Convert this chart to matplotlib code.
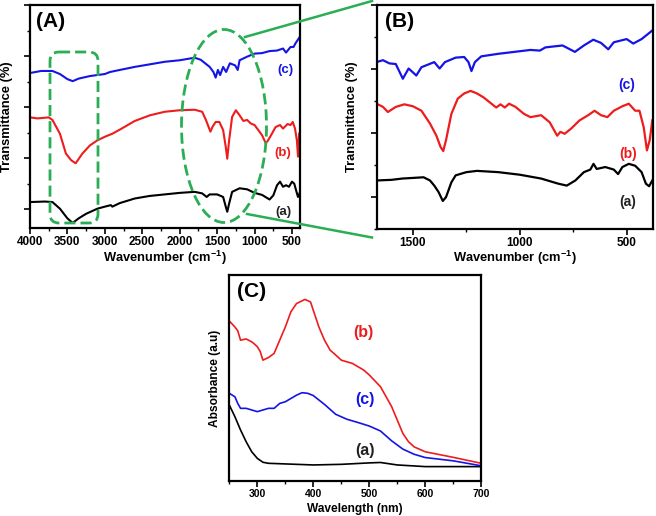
import matplotlib
matplotlib.use("Agg")
import matplotlib.pyplot as plt
from matplotlib.patches import FancyBboxPatch, Ellipse
from matplotlib.ticker import MultipleLocator

plt.rcParams['font.family'] = ['Liberation Sans', 'DejaVu Sans']
plt.rcParams['font.weight'] = 'bold'
plt.rcParams['mathtext.fontset'] = 'custom'
plt.rcParams['mathtext.default'] = 'bf'
plt.rcParams['mathtext.bf'] = 'Liberation Sans:bold'
plt.rcParams['mathtext.rm'] = 'Liberation Sans:bold'

# ---- (A) FTIR, full range ----
wn_a_a = [4000, 3800, 3700, 3600, 3500, 3430, 3350, 3250, 3100, 3000, 2920, 2900, 2800, 2600,
          2400, 2200, 2000, 1800, 1700, 1640, 1600, 1500, 1420, 1385, 1365, 1340, 1300, 1200,
          1100, 1000, 900, 800, 750, 700, 660, 620, 580, 540, 500, 470, 440, 420, 400]
tr_a_a = [0.14, 0.15, 0.14, 0.01, -0.18, -0.27, -0.18, -0.09, 0.01, 0.05, 0.08, 0.05, 0.12, 0.21,
          0.26, 0.29, 0.32, 0.34, 0.31, 0.24, 0.29, 0.29, 0.24, 0.05, -0.05, 0.11, 0.34, 0.41,
          0.39, 0.32, 0.28, 0.19, 0.27, 0.47, 0.54, 0.44, 0.47, 0.44, 0.54, 0.50, 0.34, 0.24, 0.31]

wn_a_b = [4000, 3900, 3750, 3700, 3600, 3520, 3450, 3390, 3300, 3200, 3100, 3000, 2900, 2800,
          2600, 2400, 2200, 2000, 1800, 1700, 1650, 1590, 1560, 1520, 1470, 1420, 1385, 1365,
          1340, 1300, 1250, 1200, 1150, 1100, 1050, 1000, 950, 900, 850, 820, 780, 720, 660,
          620, 560, 520, 490, 460, 435, 420, 405]
tr_a_b = [1.80, 1.78, 1.80, 1.75, 1.48, 1.09, 0.96, 0.90, 1.09, 1.25, 1.35, 1.42, 1.48, 1.56,
          1.73, 1.84, 1.91, 1.94, 1.95, 1.91, 1.75, 1.52, 1.62, 1.71, 1.71, 1.55, 1.22, 0.99,
          1.35, 1.81, 1.94, 1.84, 1.73, 1.75, 1.68, 1.65, 1.55, 1.45, 1.29, 1.35, 1.45, 1.61, 1.65,
          1.58, 1.67, 1.65, 1.71, 1.58, 1.35, 1.03, 1.48]

wn_a_c = [4000, 3850, 3700, 3600, 3500, 3430, 3350, 3200, 3000, 2930, 2800, 2600, 2400, 2200,
          2000, 1800, 1720, 1660, 1600, 1550, 1520, 1490, 1460, 1420, 1380, 1330, 1260, 1225,
          1200, 1100, 1000, 900, 800, 700, 620, 580, 520, 480, 450, 400]
tr_a_c = [2.67, 2.71, 2.71, 2.65, 2.55, 2.51, 2.56, 2.61, 2.65, 2.69, 2.73, 2.79, 2.84, 2.89,
          2.92, 2.97, 2.93, 2.86, 2.79, 2.69, 2.58, 2.73, 2.63, 2.79, 2.69, 2.86, 2.82, 2.73,
          2.92, 2.99, 3.05, 3.06, 3.10, 3.11, 3.15, 3.07, 3.18, 3.18, 3.26, 3.37]

# ---- (B) FTIR, zoomed range ----
wn_b_a = [1670, 1600, 1550, 1500, 1450, 1420, 1400, 1380, 1360, 1345, 1320, 1300, 1250, 1200,
          1100, 1000, 900, 820, 780, 740, 700, 670, 655, 640, 600, 560, 540, 520, 490, 460,
          430, 410, 395, 380]
tr_b_a = [0.26, 0.27, 0.29, 0.30, 0.31, 0.26, 0.18, 0.08, -0.06, 0.00, 0.23, 0.34, 0.39, 0.41,
          0.39, 0.35, 0.29, 0.21, 0.18, 0.26, 0.39, 0.43, 0.52, 0.44, 0.47, 0.43, 0.36, 0.47, 0.52,
          0.49, 0.39, 0.21, 0.17, 0.26]

wn_b_b = [1670, 1640, 1617, 1580, 1540, 1500, 1460, 1420, 1390, 1370, 1358, 1345, 1320, 1290,
          1260, 1230, 1200, 1170, 1140, 1110, 1090, 1070, 1050, 1020, 980, 950, 900, 860, 835,
          825, 810, 790, 760, 720, 680, 650, 620, 590, 560, 520, 490, 460, 440, 420, 405, 392, 380]
tr_b_b = [1.46, 1.41, 1.33, 1.41, 1.45, 1.42, 1.35, 1.15, 0.96, 0.78, 0.72, 0.89, 1.30, 1.54,
          1.62, 1.66, 1.62, 1.56, 1.48, 1.40, 1.45, 1.40, 1.46, 1.41, 1.30, 1.25, 1.28, 1.17, 1.02,
          0.96, 1.02, 0.99, 1.07, 1.20, 1.28, 1.35, 1.28, 1.25, 1.35, 1.42, 1.46, 1.35, 1.35, 1.09,
          0.73, 0.89, 1.20]

wn_b_c = [1670, 1640, 1610, 1580, 1547, 1520, 1500, 1484, 1460, 1430, 1400, 1375, 1350, 1300,
          1260, 1240, 1226, 1210, 1180, 1100, 1000, 950, 906, 880, 800, 742, 700, 656, 620, 586,
          560, 500, 469, 430, 400, 378]
tr_b_c = [2.11, 2.14, 2.09, 2.08, 1.85, 2.01, 1.95, 1.90, 2.03, 2.07, 2.11, 2.01, 2.11, 2.18,
          2.19, 2.11, 1.97, 2.11, 2.20, 2.24, 2.28, 2.30, 2.29, 2.34, 2.37, 2.27, 2.37, 2.46, 2.41,
          2.31, 2.42, 2.47, 2.40, 2.47, 2.55, 2.61]

# ---- (C) UV-Vis ----
wl_a = [250, 260, 270, 280, 290, 300, 310, 320, 350, 400, 450, 500, 520, 550, 600, 700]
ab_a = [0.369, 0.312, 0.248, 0.191, 0.142, 0.110, 0.091, 0.086, 0.083, 0.078, 0.081, 0.088,
        0.090, 0.078, 0.070, 0.070]

wl_b = [250, 260, 265, 270, 280, 290, 295, 300, 305, 310, 320, 330, 340, 350, 360, 370, 385,
        395, 400, 410, 420, 430, 440, 450, 470, 490, 500, 520, 540, 550, 560, 570, 580, 600,
        650, 700]
ab_b = [0.777, 0.748, 0.730, 0.684, 0.690, 0.676, 0.665, 0.652, 0.630, 0.587, 0.600, 0.620,
        0.684, 0.748, 0.822, 0.862, 0.882, 0.870, 0.829, 0.748, 0.684, 0.636, 0.612, 0.587,
        0.571, 0.539, 0.515, 0.458, 0.361, 0.296, 0.231, 0.191, 0.166, 0.142, 0.115, 0.086]

wl_c = [250, 260, 265, 270, 280, 290, 300, 310, 320, 330, 340, 350, 360, 370, 380, 390, 400,
        420, 440, 460, 480, 500, 520, 540, 560, 580, 600, 650, 700]
ab_c = [0.426, 0.409, 0.377, 0.353, 0.353, 0.345, 0.337, 0.345, 0.353, 0.353, 0.377, 0.385,
        0.401, 0.417, 0.429, 0.426, 0.415, 0.372, 0.324, 0.300, 0.284, 0.267, 0.243, 0.195,
        0.155, 0.130, 0.114, 0.098, 0.074]

BLUE = '#1414e6'
RED = '#ee1c1c'
GREEN = '#2aae55'

fig = plt.figure(figsize=(6.56, 5.16), dpi=100)


def style_axes(ax, labelsize=8.5, lw=1.6):
    for s in ax.spines.values():
        s.set_linewidth(lw)
    ax.tick_params(which='major', direction='out', length=4, width=1.2,
                   labelsize=labelsize, pad=1.5)
    ax.tick_params(which='minor', direction='out', length=2.5, width=1.0)
    for lab in ax.get_xticklabels():
        lab.set_fontweight('bold')


# Panel A
axA = fig.add_axes([0.0457, 0.558, 0.412, 0.432])
axA.plot(wn_a_a, tr_a_a, color='black', lw=1.5)
axA.plot(wn_a_b, tr_a_b, color=RED, lw=1.5)
axA.plot(wn_a_c, tr_a_c, color=BLUE, lw=1.5)
axA.set_xlim(4000, 390)
axA.set_ylim(-0.37, 4.0)
axA.xaxis.set_major_locator(MultipleLocator(500))
axA.xaxis.set_minor_locator(MultipleLocator(250))
axA.yaxis.set_major_locator(MultipleLocator(1))
axA.yaxis.set_minor_locator(MultipleLocator(0.5))
axA.yaxis.set_major_formatter(plt.NullFormatter())
style_axes(axA)
axA.set_xlabel('Wavenumber (cm$^{-1}$)', fontsize=9.3, fontweight='bold', labelpad=1)
axA.set_ylabel('Transmittance (%)', fontsize=9.3, fontweight='bold')
axA.yaxis.set_label_coords(-0.062, 0.5)
axA.text(0.022, 0.925, '(A)', transform=axA.transAxes, fontsize=15, fontweight='bold',
         ha='left', va='center')
axA.text(591, 2.73, '(c)', color=BLUE, fontsize=9.5, fontweight='bold', ha='center', va='center')
axA.text(618, 1.10, '(b)', color=RED, fontsize=9.5, fontweight='bold', ha='center', va='center')
axA.text(618, -0.06, '(a)', color='#222222', fontsize=9.5, fontweight='bold', ha='center', va='center')

# Panel B
axB = fig.add_axes([0.574, 0.556, 0.421, 0.434])
axB.plot(wn_b_a, tr_b_a, color='black', lw=1.6)
axB.plot(wn_b_b, tr_b_b, color=RED, lw=1.6)
axB.plot(wn_b_c, tr_b_c, color=BLUE, lw=1.6)
axB.set_xlim(1670, 378)
axB.set_ylim(-0.5, 3.0)
axB.xaxis.set_major_locator(MultipleLocator(500))
axB.xaxis.set_minor_locator(MultipleLocator(250))
axB.yaxis.set_major_locator(MultipleLocator(1))
axB.yaxis.set_minor_locator(MultipleLocator(0.5))
axB.yaxis.set_major_formatter(plt.NullFormatter())
style_axes(axB)
axB.set_xlabel('Wavenumber (cm$^{-1}$)', fontsize=9.3, fontweight='bold', labelpad=0)
axB.set_ylabel('Transmittance (%)', fontsize=9.3, fontweight='bold')
axB.yaxis.set_label_coords(-0.066, 0.5)
axB.text(0.03, 0.925, '(B)', transform=axB.transAxes, fontsize=15, fontweight='bold',
         ha='left', va='center')
axB.text(500, 1.745, '(c)', color=BLUE, fontsize=10, fontweight='bold', ha='center', va='center')
axB.text(494, 0.68, '(b)', color=RED, fontsize=10, fontweight='bold', ha='center', va='center')
axB.text(494, -0.08, '(a)', color='#222222', fontsize=10, fontweight='bold', ha='center', va='center')

# Panel C
axC = fig.add_axes([0.3496, 0.0678, 0.384, 0.399])
axC.plot(wl_a, ab_a, color='black', lw=1.2)
axC.plot(wl_b, ab_b, color=RED, lw=1.2)
axC.plot(wl_c, ab_c, color=BLUE, lw=1.2)
axC.set_xlim(250, 700)
axC.set_ylim(0, 1)
axC.xaxis.set_major_locator(MultipleLocator(100))
axC.xaxis.set_minor_locator(MultipleLocator(50))
axC.set_yticks([])
style_axes(axC, labelsize=7.5)
axC.set_xlabel('Wavelength (nm)', fontsize=8.6, fontweight='bold', labelpad=3)
axC.set_ylabel('Absorbance (a.u)', fontsize=8.6, fontweight='bold', labelpad=6)
axC.text(0.03, 0.919, '(C)', transform=axC.transAxes, fontsize=15, fontweight='bold',
         ha='left', va='center')
axC.text(490, 0.72, '(b)', color=RED, fontsize=11.5, fontweight='bold', ha='center', va='center')
axC.text(493, 0.397, '(c)', color=BLUE, fontsize=11.5, fontweight='bold', ha='center', va='center')
axC.text(493, 0.147, '(a)', color='#222222', fontsize=11.5, fontweight='bold', ha='center', va='center')

# green zoom annotations, drawn in figure pixel space
ov = fig.add_axes([0, 0, 1, 1], zorder=10)
ov.set_xlim(0, 656)
ov.set_ylim(516, 0)
ov.axis('off')
ov.patch.set_alpha(0)
ov.add_patch(FancyBboxPatch((50, 52), 48, 171, boxstyle='round,pad=0,rounding_size=9',
                            fill=False, ec=GREEN, lw=2, ls=(0, (4, 1.8))))
ov.add_patch(Ellipse((224, 126), 85, 193, fill=False, ec=GREEN, lw=2, ls=(0, (4, 1.8))))
ov.plot([245, 372], [37, 1], color=GREEN, lw=1.8)
ov.plot([247, 372], [214, 237.5], color=GREEN, lw=1.8)

fig.savefig('out.png', dpi=100)
